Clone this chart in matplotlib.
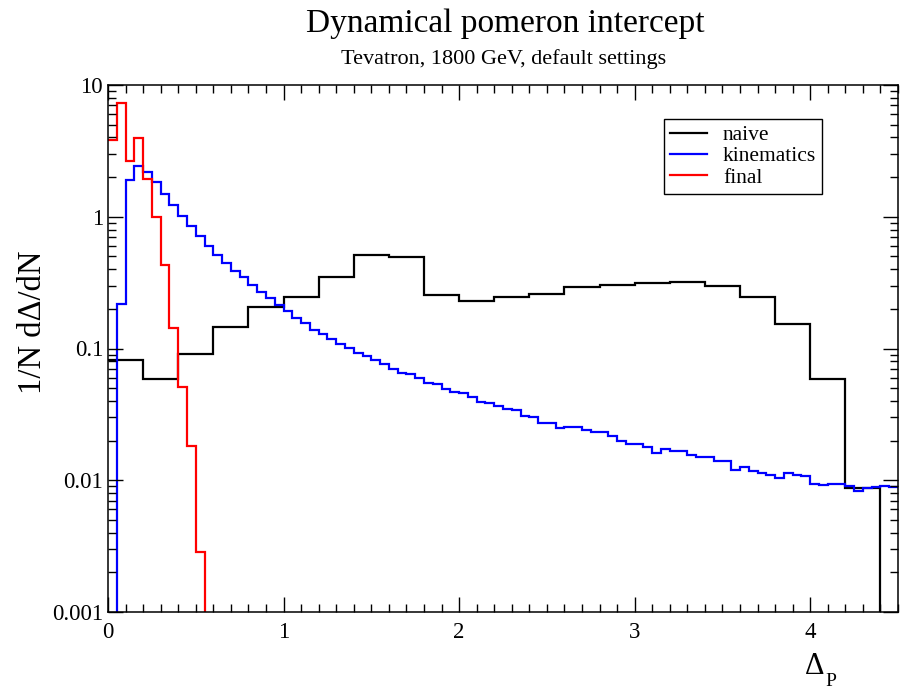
import numpy as np
import matplotlib
matplotlib.use("Agg")
from matplotlib import pyplot as plt
from matplotlib.ticker import FixedLocator, LogLocator, NullFormatter, FuncFormatter

plt.rcParams['font.family'] = ['Liberation Serif', 'DejaVu Serif']

# histogram contents (bin widths: naive 0.2, kinematics/final 0.05)
naive_width = 0.2
naive = [0.082, 0.0587, 0.091, 0.146, 0.207, 0.248, 0.351, 0.514, 0.495, 0.255,
         0.231, 0.248, 0.259, 0.291, 0.303, 0.312, 0.320, 0.296, 0.248, 0.153,
         0.0583, 0.00873, 0.0]

kin_width = 0.05
kinematics = [0.0, 0.219, 1.89, 2.43, 2.19, 1.84, 1.50, 1.23, 1.02, 0.848,
              0.711, 0.597, 0.516, 0.447, 0.390, 0.347, 0.305, 0.267, 0.242, 0.215,
              0.193, 0.169, 0.157, 0.138, 0.128, 0.119, 0.109, 0.1016, 0.093, 0.0879,
              0.0815, 0.0759, 0.0703, 0.0655, 0.0644, 0.0594, 0.0550, 0.0534, 0.0490, 0.0467,
              0.0456, 0.0428, 0.0392, 0.0383, 0.0365, 0.0345, 0.0339, 0.0310, 0.0301, 0.0273,
              0.0273, 0.0250, 0.0255, 0.0255, 0.0239, 0.0233, 0.0233, 0.0216, 0.0200, 0.0189,
              0.0189, 0.0178, 0.0161, 0.0173, 0.0166, 0.0166, 0.0155, 0.0150, 0.0150, 0.0139,
              0.0139, 0.0120, 0.0126, 0.0117, 0.0114, 0.0110, 0.0104, 0.0114, 0.0109, 0.0107,
              0.00935, 0.00914, 0.00935, 0.0094, 0.0090, 0.00834, 0.00873, 0.00883, 0.0090, 0.00883]

final_width = 0.05
final = [3.81, 7.26, 2.64, 3.93, 1.92, 1.0, 0.431, 0.142, 0.0511, 0.0181, 0.00284, 0.0]

y_ticks = [0.001, 0.01, 0.1, 1, 10]
x_ticks = [0, 1, 2, 3, 4]


def draw_hist(ax, vals, width, color, label):
	vals = np.asarray(vals)
	edges = np.arange(len(vals) + 1) * width
	# empty bins go far below the axis so the line drops off the bottom
	vals = np.where(vals > 0, vals, 1e-7)
	ax.stairs(vals, edges, baseline=None, color=color, lw=1.6, label=label)


fig = plt.figure(figsize=(9.06, 6.9), dpi=100)
ax = fig.add_axes([108 / 906, 1 - 612 / 690, 790 / 906, 527 / 690])

draw_hist(ax, naive, naive_width, 'black', 'naive')
draw_hist(ax, kinematics, kin_width, '#0000ff', 'kinematics')
draw_hist(ax, final, final_width, '#ff0000', 'final')

ax.set_yscale('log')
ax.set_xlim(0, 4.5)
ax.set_ylim(1e-3, 10)

ax.xaxis.set_major_locator(FixedLocator(x_ticks))
ax.xaxis.set_minor_locator(FixedLocator(np.arange(0, 4.51, 0.1)))
ax.yaxis.set_major_locator(FixedLocator(y_ticks))
ax.yaxis.set_minor_locator(LogLocator(base=10, subs=np.arange(2, 10), numticks=20))
ax.yaxis.set_minor_formatter(NullFormatter())
ax.yaxis.set_major_formatter(FuncFormatter(lambda v, p: '%g' % v))

ax.tick_params(which='both', direction='in', top=True, right=True, width=1, labelsize=16.5)
ax.tick_params(which='major', length=11)
ax.tick_params(which='minor', length=6)
ax.tick_params(axis='x', pad=7.5)
ax.tick_params(axis='y', pad=3.5)
for s in ax.spines.values():
	s.set_linewidth(1.1)

leg = ax.legend(loc='upper right', bbox_to_anchor=(0.904, 0.935), fontsize=15.5,
                fancybox=False, framealpha=1, edgecolor='black', handlelength=1.7,
                labelspacing=0.05, borderpad=0.28, handletextpad=0.75, borderaxespad=0)
leg.get_frame().set_linewidth(1.0)

fig.text(505 / 906, 1 - 24 / 690, 'Dynamical pomeron intercept', ha='center', va='center', fontsize=24)
fig.text(504 / 906, 1 - 59 / 690, 'Tevatron, 1800 GeV, default settings', ha='center', va='center', fontsize=16)
fig.text(33 / 906, 1 - 322 / 690, '1/N d\u0394/dN', ha='center', va='center', rotation=90, fontsize=23.5)
fig.text(815 / 906, 1 - 667 / 690, '\u0394', ha='center', va='center', fontsize=22)
fig.text(831 / 906, 1 - 682 / 690, 'P', ha='center', va='center', fontsize=14)

plt.savefig('out.png', dpi=100)
